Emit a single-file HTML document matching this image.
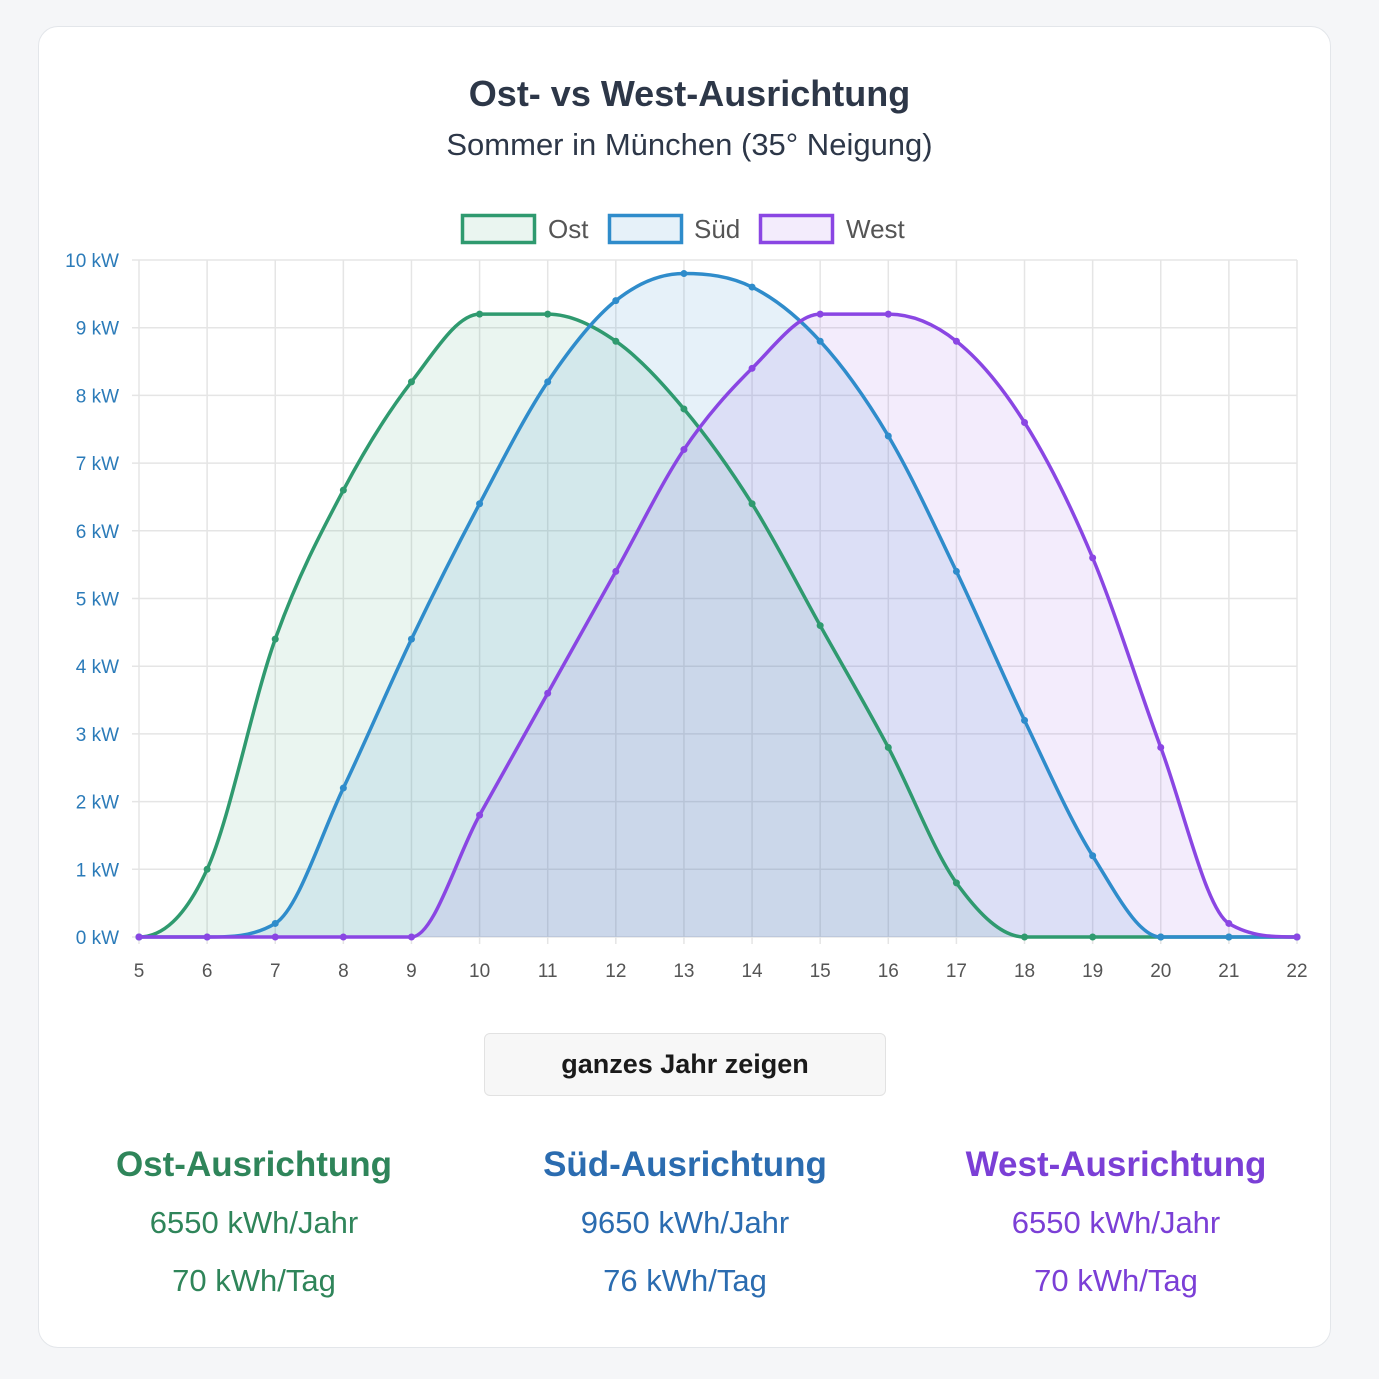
<!DOCTYPE html>
<html><head><meta charset="utf-8"><style>
html,body{margin:0;padding:0;background:#f5f6f8;width:1379px;height:1379px;overflow:hidden;font-family:"Liberation Sans",sans-serif}
.card{position:absolute;left:38px;top:26px;width:1293px;height:1322px;background:#fff;border:1px solid #e3e6ea;border-radius:20px;box-sizing:border-box}
.t{position:absolute;left:0;width:1379px;text-align:center}
.btn{position:absolute;left:484px;top:1033px;width:402px;height:63px;background:#f7f7f7;border:1px solid #e2e2e2;border-radius:6px;box-sizing:border-box;font-weight:bold;font-size:27px;line-height:61px;text-align:center;color:#1a1a1a}
.st{position:absolute;width:430px;text-align:center}
.st .h{font-size:35px;font-weight:bold;height:60px}
.st .v{font-size:31px;height:58px}
</style></head><body>
<div class="card"></div>
<div class="t" style="top:73px;font-size:36px;font-weight:bold;color:#2d3748">Ost- vs West-Ausrichtung</div>
<div class="t" style="top:127px;font-size:31px;color:#2d3748">Sommer in München (35° Neigung)</div>
<svg id="s" width="1379" height="1379" style="position:absolute;left:0;top:0"></svg>
<div class="btn">ganzes Jahr zeigen</div>
<div class="st" style="left:39px;top:1145px;color:#2f855a"><div class="h">Ost-Ausrichtung</div><div class="v">6550 kWh/Jahr</div><div class="v">70 kWh/Tag</div></div>
<div class="st" style="left:470px;top:1145px;color:#2b6cb0"><div class="h">Süd-Ausrichtung</div><div class="v">9650 kWh/Jahr</div><div class="v">76 kWh/Tag</div></div>
<div class="st" style="left:901px;top:1145px;color:#7b3fd6"><div class="h">West-Ausrichtung</div><div class="v">6550 kWh/Jahr</div><div class="v">70 kWh/Tag</div></div>
<script>
var X0=139,X1=1297,Y0=937,Y1=260;
function px(i){return X0+(X1-X0)*i/17}function py(v){return Y0-(Y0-Y1)*v/10}
var s='';
for(var i=0;i<=17;i++){var x=px(i);s+='<line x1="'+x+'" y1="'+Y1+'" x2="'+x+'" y2="'+(Y0+7)+'" stroke="#e5e5e5" stroke-width="1.5"/>';
s+='<text x="'+x+'" y="977" font-size="19" fill="#555" text-anchor="middle">'+(i+5)+'</text>';}
for(var k=0;k<=10;k++){var y=py(k);s+='<line x1="'+(X0-7)+'" y1="'+y+'" x2="'+X1+'" y2="'+y+'" stroke="#e5e5e5" stroke-width="1.5"/>';
s+='<text x="119" y="'+(y+7)+'" font-size="19" fill="#2b7bb9" text-anchor="end">'+k+' kW</text>';}
var D=[
["#2f9a6f","rgba(47,154,111,0.1)",[0,1,4.4,6.6,8.2,9.2,9.2,8.8,7.8,6.4,4.6,2.8,0.8,0,0,0,0,0]],
["#2f8ccb","rgba(47,140,203,0.12)",[0,0,0.2,2.2,4.4,6.4,8.2,9.4,9.8,9.6,8.8,7.4,5.4,3.2,1.2,0,0,0]],
["#8a46e3","rgba(138,70,227,0.1)",[0,0,0,0,0,1.8,3.6,5.4,7.2,8.4,9.2,9.2,8.8,7.6,5.6,2.8,0.2,0]]];
function path(v){var n=v.length,P=v.map(function(a,i){return[px(i),py(a)]});
var d=[],m=[];for(var i=0;i<n-1;i++)d.push((P[i+1][1]-P[i][1])/(P[i+1][0]-P[i][0]));
for(i=0;i<n;i++){m[i]=(i==0||i==n-1)?0:(d[i-1]*d[i]<=0?0:(d[i-1]+d[i])/2)}
for(i=0;i<n-1;i++){if(d[i]==0){m[i]=m[i+1]=0;continue}var a=m[i]/d[i],b=m[i+1]/d[i],h=a*a+b*b;if(h>9){var t=3/Math.sqrt(h);m[i]=t*a*d[i];m[i+1]=t*b*d[i]}}
var str='M'+P[0][0]+','+P[0][1];
for(i=0;i<n-1;i++){var dx=(P[i+1][0]-P[i][0])/3;str+=' C'+(P[i][0]+dx)+','+(P[i][1]+m[i]*dx)+' '+(P[i+1][0]-dx)+','+(P[i+1][1]-m[i+1]*dx)+' '+P[i+1][0]+','+P[i+1][1]}
return [str,P];}
D.forEach(function(o){var r=path(o[2]);s+='<path d="'+r[0]+' L'+X1+','+Y0+' L'+X0+','+Y0+'Z" fill="'+o[1]+'"/>';});
D.forEach(function(o){var r=path(o[2]);s+='<path d="'+r[0]+'" fill="none" stroke="'+o[0]+'" stroke-width="3.5"/>';
r[1].forEach(function(p){s+='<circle cx="'+p[0]+'" cy="'+p[1]+'" r="3.5" fill="'+o[0]+'"/>'});});
var L=[[461,"Ost",548],[608,"Süd",694],[759,"West",846]];
L.forEach(function(l,j){s+='<rect x="'+(l[0]+1.5)+'" y="215.5" width="72" height="27" fill="'+D[j][1]+'" stroke="'+D[j][0]+'" stroke-width="3.5"/>';
s+='<text x="'+l[2]+'" y="238" font-size="26" fill="#555">'+l[1]+'</text>';});
document.getElementById('s').innerHTML=s;
</script>
</body></html>
